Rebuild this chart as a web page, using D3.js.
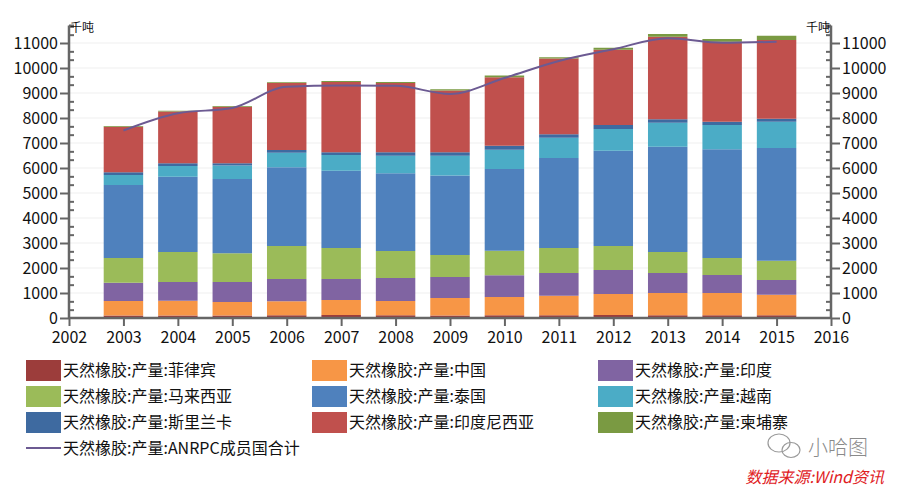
<!DOCTYPE html>
<html><head><meta charset="utf-8">
<script src="https://cdn.jsdelivr.net/npm/d3@7"></script>
<style>
body{margin:0;background:#fff;}
text{font-family:"Microsoft YaHei","Noto Sans CJK SC","Noto Sans",sans-serif;}
</style></head><body>
<svg id="c" width="902" height="487"></svg>
<script>
const years = [2003,2004,2005,2006,2007,2008,2009,2010,2011,2012,2013,2014,2015];
const xTickYears = [2002,2003,2004,2005,2006,2007,2008,2009,2010,2011,2012,2013,2014,2015,2016];
const yTicks = [0,1000,2000,3000,4000,5000,6000,7000,8000,9000,10000,11000];
const philippines = [100,100,100,110,120,110,100,110,110,120,110,110,110];
const china       = [580,590,540,560,600,570,700,730,780,840,890,890,820];
const india       = [730,750,800,890,840,920,840,870,910,960,800,720,590];
const malaysia    = [990,1200,1150,1320,1240,1080,880,980,1000,960,840,680,770];
const thailand    = [2920,3010,2970,3150,3090,3110,3180,3270,3600,3810,4210,4350,4510];
const vietnam     = [400,430,540,580,630,700,790,770,810,870,960,970,1050];
const sriLanka    = [110,110,90,110,110,140,140,160,140,160,140,130,120];
const indonesia   = [1820,2070,2260,2680,2810,2770,2470,2740,3030,3010,3300,3200,3150];
const cambodia    = [30,30,30,30,40,40,50,70,50,80,110,110,170];
const anrpcTotal  = [7500,8190,8400,9250,9300,9290,8960,9600,10280,10750,11190,11010,11050];

const seriesNames = ["天然橡胶:产量:菲律宾","天然橡胶:产量:中国","天然橡胶:产量:印度","天然橡胶:产量:马来西亚","天然橡胶:产量:泰国","天然橡胶:产量:越南","天然橡胶:产量:斯里兰卡","天然橡胶:产量:印度尼西亚","天然橡胶:产量:柬埔寨"];
const lineName = "天然橡胶:产量:ANRPC成员国合计";
const seriesValues = [philippines,china,india,malaysia,thailand,vietnam,sriLanka,indonesia,cambodia];
const colors = ["#9c3d3b","#f79646","#8064a2","#9bbb59","#4f81bd","#4bacc6","#3e6aa0","#c0504d","#7a9a42"];
const lineColor = "#6c5a92";
const unitLabel = "千吨";

const svg = d3.select("#c");
const x = d3.scaleLinear().domain([2002,2016]).range([69,831]);
const y = d3.scaleLinear().domain([0,11000]).range([318,43]);
const yTop = 11700;
const band = x(2003)-x(2002);
const bw = band*0.725;

// gridlines
svg.append("g").selectAll("line").data(yTicks.slice(1)).join("line")
  .attr("x1",x(2002)).attr("x2",x(2016)).attr("y1",d=>y(d)).attr("y2",d=>y(d))
  .attr("stroke","#efefef").attr("stroke-width",1);

// stacks
const rows = years.map((yr,i)=>{const o={year:yr}; seriesNames.forEach((n,j)=>o[n]=seriesValues[j][i]); return o;});
const stacked = d3.stack().keys(seriesNames)(rows);
svg.append("g").selectAll("g").data(stacked).join("g").attr("fill",(d,i)=>colors[i])
  .selectAll("rect").data(d=>d).join("rect")
  .attr("x",d=>x(d.data.year)-bw/2).attr("width",bw)
  .attr("y",d=>y(d[1])).attr("height",d=>y(d[0])-y(d[1]));

// line
svg.append("path").datum(years.map((yr,i)=>[yr,anrpcTotal[i]]))
  .attr("fill","none").attr("stroke",lineColor).attr("stroke-width",2)
  .attr("d",d3.line().x(d=>x(d[0])).y(d=>y(d[1])).curve(d3.curveMonotoneX));

const axisColor="#666";
const minorTicks = d3.range(0,yTop,1000/3).filter(v=>Math.abs(v/1000-Math.round(v/1000))>0.01);
function styleAxis(g){
  g.selectAll(".domain").remove();
  g.selectAll("line").attr("stroke",axisColor).attr("stroke-width",2);
  g.selectAll("text").attr("fill","#111").style("font-size","16px");
}
// left axis
const gl = svg.append("g").attr("transform",`translate(${x(2002)},0)`);
gl.call(d3.axisLeft(y).tickValues(yTicks).tickSize(9).tickPadding(2).tickFormat(d3.format("d"))).call(styleAxis);
gl.append("g").call(d3.axisRight(y).tickValues(minorTicks).tickSize(5).tickFormat("")).call(styleAxis);
gl.append("line").attr("y1",y(0)).attr("y2",y(yTop)).attr("stroke",axisColor).attr("stroke-width",2.5);
gl.append("line").attr("x1",0).attr("x2",5).attr("y1",y(yTop)).attr("y2",y(yTop)).attr("stroke",axisColor).attr("stroke-width",2);
// right axis
const gr = svg.append("g").attr("transform",`translate(${x(2016)},0)`);
gr.call(d3.axisRight(y).tickValues(yTicks).tickSize(9).tickPadding(2).tickFormat(d3.format("d"))).call(styleAxis);
gr.append("g").call(d3.axisLeft(y).tickValues(minorTicks).tickSize(5).tickFormat("")).call(styleAxis);
gr.append("line").attr("y1",y(0)).attr("y2",y(yTop)).attr("stroke",axisColor).attr("stroke-width",2.5);
gr.append("line").attr("x1",0).attr("x2",-5).attr("y1",y(yTop)).attr("y2",y(yTop)).attr("stroke",axisColor).attr("stroke-width",2);
// bottom axis
const gb = svg.append("g").attr("transform",`translate(0,${y(0)})`);
gb.call(d3.axisBottom(x).tickValues(xTickYears).tickSize(8).tickPadding(6).tickFormat(d3.format("d"))).call(styleAxis);
gb.append("line").attr("x1",x(2002)).attr("x2",x(2016)).attr("stroke",axisColor).attr("stroke-width",2.5);

// unit labels
svg.append("text").attr("x",x(2002)+1).attr("y",y(yTop)+6).text(unitLabel).style("font-size","12px").attr("fill","#111");
svg.append("text").attr("x",x(2016)-1).attr("y",y(yTop)+6).attr("text-anchor","end").text(unitLabel).style("font-size","12px").attr("fill","#111");

// legend
const colX=[26,312,598], rowY=[360,386,412];
const lg = svg.append("g");
seriesNames.forEach((n,i)=>{
  const cx=colX[i%3], cy=rowY[Math.floor(i/3)];
  lg.append("rect").attr("x",cx).attr("y",cy).attr("width",35).attr("height",21).attr("fill",colors[i]);
  lg.append("text").attr("x",cx+37).attr("y",cy+16).text(n).style("font-size","16px").attr("fill","#111");
});
lg.append("line").attr("x1",26).attr("x2",61).attr("y1",448).attr("y2",448).attr("stroke",lineColor).attr("stroke-width",2);
lg.append("text").attr("x",63).attr("y",454).text(lineName).style("font-size","16px").attr("fill","#111");

// watermark
const wm = svg.append("g").attr("fill","none").attr("stroke","#9a9a9a").attr("stroke-width",1.2);
wm.append("ellipse").attr("cx",779).attr("cy",443).attr("rx",11).attr("ry",9);
wm.append("ellipse").attr("cx",791).attr("cy",450).attr("rx",9).attr("ry",7.5);
svg.append("text").attr("x",808).attr("y",455).text("小哈图").style("font-size","20px").attr("fill","#8a8a8a").style("font-weight","300");
svg.append("text").attr("x",884).attr("y",483).attr("text-anchor","end").text("数据来源:Wind资讯")
  .style("font-size","16px").style("font-style","italic").attr("fill","#e0201e");
</script></body></html>
